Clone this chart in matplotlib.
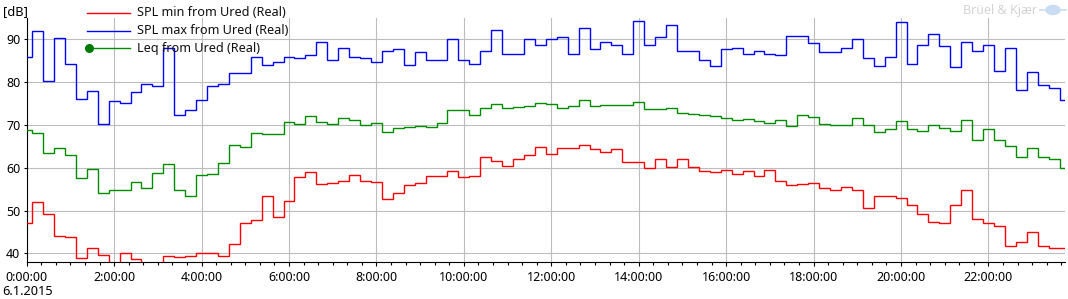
import numpy as np
import matplotlib
matplotlib.use("Agg")
import matplotlib.pyplot as plt
from matplotlib.lines import Line2D
from matplotlib.patches import Ellipse

plt.rcParams['font.family'] = ['Noto Sans', 'DejaVu Sans']

# 15-minute intervals; first interval starts at 23:52:30 of the previous day (hours)
first_start_h = -0.125
interval_h = 0.25

spl_max = [86.0, 91.9, 80.2, 90.4, 84.2, 76.0, 77.9, 70.2, 75.6, 75.1,
           77.7, 79.5, 79.1, 87.9, 72.3, 73.5, 75.9, 79.0, 79.5, 82.1,
           82.1, 85.8, 84.0, 84.7, 85.8, 85.6, 86.4, 89.3, 85.3, 87.9,
           86.0, 85.6, 84.7, 87.4, 87.7, 84.0, 87.0, 85.1, 85.1, 90.2,
           85.1, 84.2, 87.4, 92.3, 86.7, 86.7, 90.0, 88.6, 90.0, 90.5,
           86.7, 92.6, 87.7, 89.3, 88.6, 86.5, 94.2, 88.6, 90.5, 93.3,
           87.4, 87.4, 85.1, 83.7, 87.7, 88.1, 86.5, 87.2, 86.7, 86.3,
           90.9, 90.7, 89.1, 87.0, 87.0, 88.1, 90.2, 85.6, 83.7, 86.0,
           94.0, 84.2, 88.8, 91.2, 88.4, 83.5, 89.5, 87.2, 88.8, 82.6,
           88.1, 78.1, 82.3, 79.3, 78.6, 75.9]

leq = [68.8, 68.1, 63.5, 64.7, 63.0, 57.7, 59.8, 54.2, 54.7, 54.9,
       56.7, 55.3, 58.8, 60.9, 54.7, 53.5, 58.4, 58.6, 61.2, 65.3,
       64.9, 68.1, 67.9, 67.9, 70.7, 70.2, 72.1, 70.7, 70.2, 71.6,
       71.2, 70.0, 70.5, 68.4, 69.3, 69.5, 69.8, 69.5, 70.5, 73.5,
       73.5, 72.3, 74.0, 74.9, 74.0, 74.2, 74.4, 75.1, 74.9, 74.0,
       74.4, 75.8, 74.4, 74.7, 74.7, 74.7, 75.3, 73.7, 73.7, 74.0,
       72.8, 72.6, 72.3, 72.1, 71.6, 71.2, 71.4, 70.9, 70.5, 71.2,
       69.8, 72.3, 71.9, 70.2, 70.0, 70.0, 71.6, 70.0, 68.4, 69.1,
       70.9, 69.1, 68.6, 70.0, 69.3, 68.6, 71.2, 66.5, 69.1, 66.5,
       65.0, 62.4, 64.5, 62.4, 62.1, 60.0]

spl_min = [47.2, 52.1, 49.3, 44.0, 43.7, 38.8, 41.2, 39.5, 37.0, 40.0,
           38.7, 37.5, 37.2, 39.3, 39.1, 39.3, 40.0, 40.0, 39.3, 42.1,
           47.0, 47.9, 53.5, 48.6, 52.3, 57.9, 59.1, 56.3, 56.5, 57.0,
           58.4, 57.0, 56.7, 52.7, 54.2, 56.0, 56.5, 58.1, 58.1, 59.3,
           57.9, 58.1, 62.6, 61.6, 60.5, 62.1, 63.0, 64.9, 63.3, 64.7,
           64.7, 65.3, 64.4, 63.7, 64.4, 61.4, 61.4, 60.0, 62.1, 60.2,
           62.1, 60.2, 59.3, 59.1, 59.5, 58.6, 59.3, 58.1, 59.5, 57.0,
           56.0, 56.3, 56.5, 55.3, 54.9, 55.6, 54.7, 50.7, 53.5, 53.3,
           53.0, 51.2, 49.1, 47.4, 47.0, 51.2, 54.9, 48.1, 47.2, 46.3,
           41.6, 42.6, 44.9, 41.6, 41.2, 41.2]

series_labels = ["SPL min from Ured (Real)", "SPL max from Ured (Real)", "Leq from Ured (Real)"]
x_tick_hours = list(range(0, 24, 2))
x_tick_labels = [f"{h}:00:00" for h in x_tick_hours]
y_ticks = [40, 50, 60, 70, 80, 90]
date_label = "6.1.2015"

RED = "#ff0000"
BLUE = "#0000ff"
GREEN = "#008c00"

W, H = 1068, 299
fig = plt.figure(figsize=(W / 100, H / 100), dpi=100)
ax = fig.add_axes([26.7 / W, (H - 262.3) / H, (1065 - 26.7) / W, (262.3 - 18) / H])

n = len(spl_max)
edges = first_start_h + interval_h * np.arange(n + 1)

ax.stairs(spl_min, edges, color=RED, lw=1.0, baseline=None, zorder=3)
ax.stairs(spl_max, edges, color=BLUE, lw=1.0, baseline=None, zorder=3)
ax.stairs(leq, edges, color=GREEN, lw=1.0, baseline=None, zorder=3)

ax.set_xlim(0, 23.75)
ax.set_ylim(37.9, 95)

ax.set_xticks(x_tick_hours)
ax.set_xticklabels(x_tick_labels)
ax.set_xticks(np.arange(0, 23.75, 1 / 3), minor=True)
ax.set_yticks(y_ticks)
ax.set_yticklabels([str(v) for v in y_ticks])

ax.grid(True, which='major', color='#bdbdbd', lw=0.8, zorder=1)
for s in ['top', 'right']:
    ax.spines[s].set_visible(False)
for s in ['left', 'bottom']:
    ax.spines[s].set_color('black')
    ax.spines[s].set_linewidth(0.8)

ax.tick_params(axis='x', which='major', length=3.2, width=0.8, pad=3, labelsize=9, colors='black')
ax.tick_params(axis='x', which='minor', length=2.2, width=0.8)
ax.tick_params(axis='y', which='major', length=2, width=0.8, pad=2.5, labelsize=9)

# legend (drawn over the plot, transparent)
leg_rows = [(12.7, RED, False), (30.7, BLUE, False), (48.3, GREEN, True)]
for (yp, col, mk), lab in zip(leg_rows, series_labels):
    yf = 1 - yp / H
    fig.add_artist(Line2D([87 / W, 130 / W], [yf, yf], color=col, lw=1.0, zorder=5))
    if mk:
        fig.add_artist(Line2D([88.5 / W], [yf], color='#007a00', marker='o', markersize=5.5,
                              lw=0, zorder=6))
    fig.text(137 / W, yf, lab, fontsize=9.1, va='center', ha='left', color='#111111', zorder=6)

fig.text(3 / W, 1 - 12 / H, "[dB]", fontsize=9.2, va='center', ha='left')
fig.text(2 / W, 1 - 291.5 / H, date_label, fontsize=9.2, va='center', ha='left')

# Brüel & Kjær logo
fig.text(1037 / W, 1 - 10.5 / H, "Brüel & Kjær", fontsize=9, fontweight='bold',
         color='#d4d4d4', va='center', ha='right')
fig.add_artist(Ellipse((1053 / W, 1 - 10 / H), 14 / W, 9 / H, color='#c9dcf2', zorder=5))
fig.add_artist(Line2D([1040 / W, 1066 / W], [1 - 10 / H, 1 - 10 / H], color='#c9dcf2', lw=1.2))

fig.savefig("out.png", dpi=100)
